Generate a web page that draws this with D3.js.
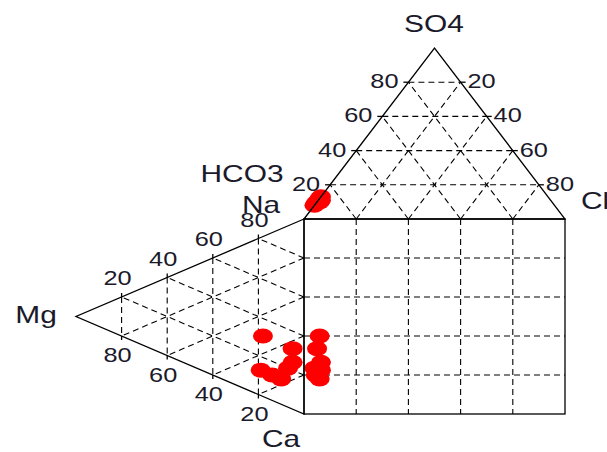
<!DOCTYPE html>
<html>
<head>
<meta charset="utf-8">
<script src="https://cdn.jsdelivr.net/npm/d3@7"></script>
<style>
  html, body { margin: 0; padding: 0; background: #fff; }
  svg { display: block; }
  text { font-family: "Liberation Sans", Arial, sans-serif; fill: #1a1a2a; }
</style>
</head>
<body>
<svg id="chart" width="607" height="452"></svg>
<script>
// Sample composition (% meq): cations
const ca = [51, 64, 68, 73, 77, 73, 71];
const mg = [18, 5, 19, 14, 10, 7, 5];
const na = [31, 31, 13, 13, 13, 20, 24];
// Sample composition (% meq): anions
const hco3 = [88, 90, 88, 91, 89, 92, 87];
const so4 = [12, 10, 11, 9, 10, 8, 13];
const cl = [0, 0, 1, 0, 1, 0, 0];

const gridValues = [20, 40, 60, 80];
const anionNames = ["HCO3", "SO4", "Cl"];
const cationNames = ["Na", "Mg", "Ca"];

const svg = d3.select("#chart");

// Layout of the square and the two triangles
const sqL = 304, sqR = 565, sqT = 219, sqB = 414, apexY = 48, mgApexX = 76;

// Anion triangle: x follows Cl + SO4/2, y follows SO4
const xAn = d3.scaleLinear().domain([0, 100]).range([sqL, sqR]);
const yAn = d3.scaleLinear().domain([0, 100]).range([sqT, apexY]);
// Cation triangle: x follows Mg, y follows Na + Mg/2
const xCat = d3.scaleLinear().domain([0, 100]).range([sqL, mgApexX]);
const yCat = d3.scaleLinear().domain([0, 100]).range([sqB, sqT]);

const tp = (s, c) => [xAn(c + s / 2), yAn(s)];
const lp = (m, n) => [xCat(m), yCat(n + m / 2)];

const dashed = svg.append("g")
  .attr("fill", "none").attr("stroke", "#000")
  .attr("stroke-width", 1.1).attr("stroke-dasharray", "6,4");
const solid = svg.append("g").attr("fill", "none").attr("stroke", "#000").attr("stroke-width", 1.3);
const line = d3.line();

gridValues.forEach(v => {
  // anion triangle grid
  dashed.append("path").attr("d", line([tp(v, 0), tp(v, 100 - v)]));
  dashed.append("path").attr("d", line([tp(0, v), tp(100 - v, v)]));
  dashed.append("path").attr("d", line([tp(0, 100 - v), tp(100 - v, 0)]));
  // cation triangle grid
  dashed.append("path").attr("d", line([lp(v, 100 - v), lp(v, 0)]));
  dashed.append("path").attr("d", line([lp(0, v), lp(100 - v, v)]));
  dashed.append("path").attr("d", line([lp(0, 100 - v), lp(100 - v, 0)]));
  // square grid
  dashed.append("path").attr("d", line([[xAn(v), sqT], [xAn(v), sqB]]));
  dashed.append("path").attr("d", line([[sqL, yCat(v)], [sqR, yCat(v)]]));

  // short ticks where the grid meets the labelled edges
  const a = tp(v, 0), b = tp(v, 100 - v);
  solid.append("path").attr("d", line([[a[0] - 5, a[1]], a]));
  solid.append("path").attr("d", line([b, [b[0] + 5, b[1]]]));
  const c = lp(v, 100 - v), d = lp(v, 0);
  solid.append("path").attr("d", line([[c[0], c[1] - 4], c]));
  solid.append("path").attr("d", line([d, [d[0], d[1] + 4]]));
});

// Sample points: anion triangle, cation triangle, and projection into the square
const pts = [];
ca.forEach((_, i) => {
  pts.push(tp(so4[i], cl[i]));
  pts.push(lp(mg[i], na[i]));
  pts.push([xAn(cl[i] + so4[i] / 2), yCat(na[i] + mg[i] / 2)]);
});
svg.append("g").selectAll("ellipse").data(pts).join("ellipse")
  .attr("cx", d => d[0]).attr("cy", d => d[1])
  .attr("rx", 10).attr("ry", 7.5).attr("fill", "#ff0000");

// Outlines
solid.raise();
solid.append("path").attr("d", line([tp(0, 0), tp(100, 0), tp(0, 100)]) + "Z");
solid.append("path").attr("d", line([lp(0, 100), lp(100, 0), lp(0, 0)]) + "Z");
solid.append("rect").attr("x", sqL).attr("y", sqT).attr("width", sqR - sqL).attr("height", sqB - sqT);

// Labels (drawn horizontally widened)
function label(txt, x, y, size) {
  svg.append("text")
    .attr("transform", `translate(${x},${y}) scale(1.3,1)`)
    .attr("text-anchor", "middle")
    .attr("font-size", size)
    .text(txt);
}

// Tick labels: SO4 on left edge, Cl on right edge of anion triangle
gridValues.forEach(v => {
  const a = tp(v, 0), b = tp(v, 100 - v);
  label(String(v), a[0] - 24, a[1] + 6, 19.5);
  label(String(100 - v), b[0] + 21, b[1] + 6, 19.5);
  // Na on upper edge, Mg on lower edge of cation triangle
  const c = lp(100 - v, v), d = lp(v, 0);
  label(String(v), c[0] - 4, c[1] - 12, 19.5);
  label(String(v), d[0] - 4, d[1] + 26, 19.5);
});

// Corner names
label(anionNames[1], 434, 32, 23);
label(anionNames[0], 242, 182, 23);
label(anionNames[2], 595, 209, 23);
label(cationNames[0], 261, 213, 23);
label(cationNames[1], 36, 323, 23);
label(cationNames[2], 281, 447, 23);
</script>
</body>
</html>
